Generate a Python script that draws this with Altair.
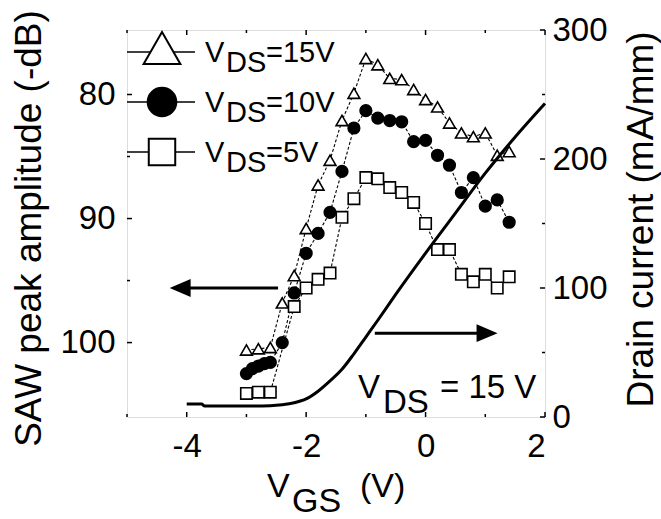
import altair as alt
import pandas as pd

FONT = "Liberation Sans"
W, H = 418, 387

# ---- data ----
vgs_15 = [-3.0, -2.8, -2.6, -2.4, -2.2, -2.0, -1.8, -1.6, -1.4, -1.2, -1.0, -0.8,
          -0.6, -0.4, -0.2, 0.0, 0.2, 0.4, 0.6, 0.8, 1.0, 1.2, 1.4]
saw_15 = [100.6, 100.5, 100.4, 96.8, 94.6, 90.8, 87.3, 85.3, 82.1, 79.9, 77.1, 77.6,
          78.7, 78.8, 79.6, 80.4, 81.0, 82.3, 83.1, 83.4, 83.1, 84.9, 84.6]

vgs_10 = [-3.0, -2.9, -2.8, -2.7, -2.6, -2.4, -2.2, -2.0, -1.8, -1.6, -1.4, -1.2, -1.0,
          -0.8, -0.6, -0.4, -0.2, 0.0, 0.2, 0.4, 0.6, 0.8, 1.0, 1.2, 1.4]
saw_10 = [102.5, 102.1, 101.9, 101.7, 101.6, 100.0, 96.0, 92.8, 91.2, 89.5, 86.2, 82.7, 81.3,
          81.9, 82.1, 82.2, 83.8, 83.7, 84.9, 85.7, 87.9, 86.7, 89.0, 88.5, 90.3]

vgs_5 = [-3.0, -2.8, -2.6, -2.2, -2.0, -1.8, -1.6, -1.4, -1.2, -1.0, -0.8, -0.6, -0.4,
         -0.2, 0.0, 0.2, 0.4, 0.6, 0.8, 1.0, 1.2, 1.4]
saw_5 = [104.1, 104.0, 104.0, 97.1, 95.6, 94.9, 94.4, 89.9, 88.4, 86.7, 86.8, 87.5, 87.9,
         88.7, 90.4, 92.5, 92.5, 94.5, 95.1, 94.5, 95.6, 94.7]

vgs_id = [-4.0, -3.75, -3.7, -3.5, -3.0, -2.6, -2.4, -2.2, -2.0, -1.8, -1.6, -1.4, -1.2,
          -1.0, -0.8, -0.5, 0.0, 0.5, 1.0, 1.5, 2.0]
id_15 = [10, 10, 8.5, 8.5, 8.5, 8.8, 9.5, 11, 14, 20, 28, 37, 49,
         62, 75, 95, 127, 158, 189, 217, 243]

series_names = ["15V", "10V", "5V"]
series_shapes = ["triangle-up", "circle", "square"]
series_fills = ["white", "black", "white"]
series_sizes = [140, 130, 125]

x_ticks_major = [-4, -2, 0, 2]
x_ticks_minor = [-5, -3, -1, 1]
left_ticks_major = [80, 90, 100]
left_ticks_minor = [85, 95]
right_ticks_major = [0, 100, 200, 300]
right_ticks_minor = [50, 150, 250]

# arrows (annotation positions in data units)
left_arrow_y = [95.6]
left_arrow_x = [-4.11, -2.47]
right_arrow_y = [65]
right_arrow_x = [-0.85, 1.03]

# ---- tables ----
saw = pd.concat([
    pd.DataFrame({"vgs": vgs_15, "saw": saw_15, "series": "15V"}),
    pd.DataFrame({"vgs": vgs_10, "saw": saw_10, "series": "10V"}),
    pd.DataFrame({"vgs": vgs_5, "saw": saw_5, "series": "5V"}),
])
drain = pd.DataFrame({"vgs": vgs_id, "id": id_15})
dummy = pd.DataFrame({"k": [0]})

xs = alt.Scale(domain=[-5, 2], nice=False, zero=False)
yl = alt.Scale(domain=[74.8, 106], reverse=True, nice=False, zero=False)
yr = alt.Scale(domain=[0, 300], nice=False, zero=False)

X_AXIS = alt.Axis(values=x_ticks_major, title=None, ticks=False, tickSize=0, domain=False,
                  grid=False, labelFont=FONT, labelFontSize=33, labelPadding=13,
                  labelColor="black", labelExpr="datum.value + ''")
L_AXIS = alt.Axis(orient="left", values=left_ticks_major, title="SAW peak amplitude (-dB)",
                  ticks=False, tickSize=0, domain=False, grid=False,
                  labelFont=FONT, labelFontSize=33, labelPadding=12, labelColor="black",
                  labelExpr="datum.value + ''",
                  titleFont=FONT, titleFontSize=37, titleFontWeight="normal", titleColor="black",
                  titleAngle=270, titleX=-98, titleY=198, titleAlign="center",
                  titleBaseline="middle", titleLimit=2000)
R_AXIS = alt.Axis(orient="right", values=right_ticks_major, title="Drain current (mA/mm)",
                  ticks=False, tickSize=0, domain=False, grid=False,
                  labelFont=FONT, labelFontSize=33, labelPadding=7, labelColor="black",
                  labelExpr="datum.value + ''",
                  titleFont=FONT, titleFontSize=37, titleFontWeight="normal", titleColor="black",
                  titleAngle=270, titleX=96, titleY=189, titleAlign="center",
                  titleBaseline="middle", titleLimit=2000)


def X(field):
    return alt.X(field, type="quantitative", scale=xs, axis=X_AXIS)


def YL(field):
    return alt.Y(field, type="quantitative", scale=yl, axis=L_AXIS)


def YR(field):
    return alt.Y(field, type="quantitative", scale=yr, axis=R_AXIS)


# ---- left group ----
saw_lines = alt.Chart(saw).mark_line(color="black", strokeWidth=1.1, strokeDash=[3, 2]).encode(
    x=X("vgs"), y=YL("saw"), detail="series:N")
saw_points = alt.Chart(saw).mark_point(filled=True, stroke="black", strokeWidth=1.6, opacity=1).encode(
    x=X("vgs"), y=YL("saw"),
    shape=alt.Shape("series:N", scale=alt.Scale(domain=series_names, range=series_shapes), legend=None),
    fill=alt.Fill("series:N", scale=alt.Scale(domain=series_names, range=series_fills), legend=None),
    size=alt.Size("series:N", scale=alt.Scale(domain=series_names, range=series_sizes), legend=None),
)


def tick_df(vals):
    return pd.DataFrame({"v": vals})


xt_bot_maj = alt.Chart(tick_df(x_ticks_major)).mark_rule(color="black", strokeWidth=1.5).encode(
    x=X("v"), y=alt.value(H), y2=alt.value(H - 5))
xt_bot_min = alt.Chart(tick_df(x_ticks_minor)).mark_rule(color="black", strokeWidth=1.5).encode(
    x=X("v"), y=alt.value(H), y2=alt.value(H - 3))
xt_top_maj = alt.Chart(tick_df(x_ticks_major)).mark_rule(color="black", strokeWidth=1.5).encode(
    x=X("v"), y=alt.value(0), y2=alt.value(5))
xt_top_min = alt.Chart(tick_df(x_ticks_minor)).mark_rule(color="black", strokeWidth=1.5).encode(
    x=X("v"), y=alt.value(0), y2=alt.value(3))
lt_maj = alt.Chart(tick_df(left_ticks_major)).mark_rule(color="black", strokeWidth=1.5).encode(
    y=YL("v"), x=alt.value(0), x2=alt.value(5))
lt_min = alt.Chart(tick_df(left_ticks_minor)).mark_rule(color="black", strokeWidth=1.5).encode(
    y=YL("v"), x=alt.value(0), x2=alt.value(3))

la_df = pd.DataFrame({"x1": [left_arrow_x[0]], "x2": [left_arrow_x[1]], "y": left_arrow_y})
la_shaft = alt.Chart(la_df).mark_rule(color="black", strokeWidth=3).encode(
    x=X("x1"), x2="x2:Q", y=YL("y"))
la_head = alt.Chart(la_df).mark_point(shape="M-1,0 L1,-0.85 L1,0.85 Z", filled=True, color="black",
                                      size=441, opacity=1).encode(x=X("x1"), y=YL("y"))

left_group = alt.layer(saw_lines, saw_points, xt_bot_maj, xt_bot_min, xt_top_maj, xt_top_min,
                       lt_maj, lt_min, la_shaft, la_head)

# ---- right group ----
id_line = alt.Chart(drain).mark_line(color="black", strokeWidth=3, interpolate="monotone").encode(
    x=X("vgs"), y=YR("id"))
rt_maj = alt.Chart(tick_df(right_ticks_major)).mark_rule(color="black", strokeWidth=1.5).encode(
    y=YR("v"), x=alt.value(W), x2=alt.value(W - 5))
rt_min = alt.Chart(tick_df(right_ticks_minor)).mark_rule(color="black", strokeWidth=1.5).encode(
    y=YR("v"), x=alt.value(W), x2=alt.value(W - 3))
ra_df = pd.DataFrame({"x1": [right_arrow_x[0]], "x2": [right_arrow_x[1]], "y": right_arrow_y})
ra_shaft = alt.Chart(ra_df).mark_rule(color="black", strokeWidth=3).encode(
    x=X("x1"), x2="x2:Q", y=YR("y"))
ra_head = alt.Chart(ra_df).mark_point(shape="M1,0 L-1,-0.85 L-1,0.85 Z", filled=True, color="black",
                                      size=441, opacity=1).encode(x=X("x2"), y=YR("y"))

right_group = alt.layer(id_line, rt_maj, rt_min, ra_shaft, ra_head)


# ---- text pieces (titles with subscripts, legend, annotation) ----
def txt(t, px, py, size):
    return alt.Chart(dummy).mark_text(text=t, font=FONT, fontSize=size, align="left",
                                      baseline="alphabetic", color="black").encode(
        x=alt.value(px), y=alt.value(py))


texts = [
    txt("V", 140, 467, 34), txt("GS", 165, 482, 34), txt("(V)", 233, 467, 34),
    txt("V", 231, 368, 33), txt("DS", 256, 383, 33), txt("= 15 V", 313, 368, 33),
]

legend_labels = ["=15V", "=10V", "=5V"]
legend_line_y = [22, 72, 122]
legend_mark_y = [18, 72, 122]
legend_text_y = [32, 82, 132]
legend_sizes = [1350, 820, 700]
legend_layers = []
for i in range(3):
    legend_layers.append(alt.Chart(dummy).mark_rule(color="black", strokeWidth=1.5).encode(
        x=alt.value(0), x2=alt.value(68), y=alt.value(legend_line_y[i])))
    legend_layers.append(alt.Chart(dummy).mark_point(
        shape=series_shapes[i], size=legend_sizes[i], filled=True, fill=series_fills[i],
        stroke="black", strokeWidth=2, opacity=1).encode(
        x=alt.value(35), y=alt.value(legend_mark_y[i])))
    legend_layers.append(txt("V", 78, legend_text_y[i], 29))
    legend_layers.append(txt("DS", 99, legend_text_y[i] + 10, 29))
    legend_layers.append(txt(legend_labels[i], 139, legend_text_y[i], 29))

chart = alt.layer(left_group, right_group, *texts, *legend_layers).resolve_scale(
    y="independent"
).properties(
    width=W, height=H,
    padding={"left": 127, "top": 30, "right": 116, "bottom": 102},
    autosize=alt.AutoSizeParams(type="none"),
    background="white",
).configure_view(stroke="black", strokeWidth=1.5).configure(font=FONT)

chart.save("out.html", embed_options={"renderer": "svg", "actions": False})
